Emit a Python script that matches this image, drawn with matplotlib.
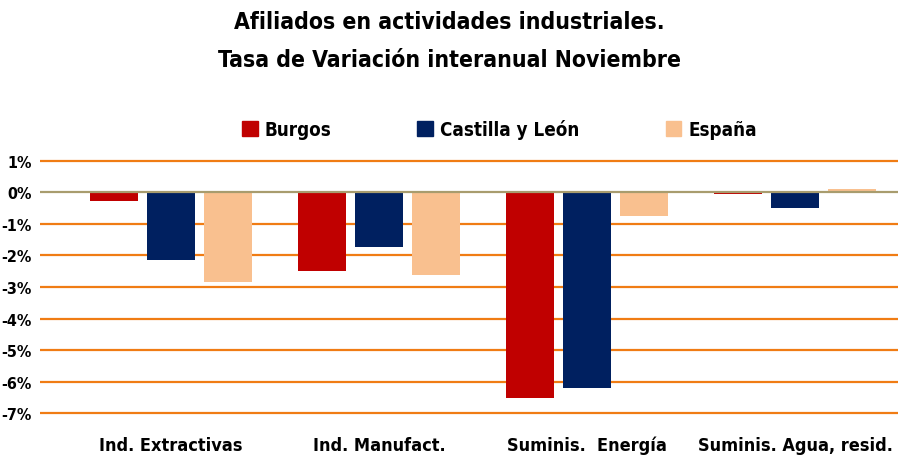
import numpy as np
import matplotlib.pyplot as plt
from matplotlib.patches import Patch

categorias = ['Ind. Extractivas', 'Ind. Manufact.', 'Suminis.  Energía', 'Suminis. Agua, resid.']
burgos = [-0.27, -2.50, -6.50, -0.07]
castilla_leon = [-2.15, -1.73, -6.20, -0.50]
espana = [-2.85, -2.62, -0.74, 0.10]
series = ['Burgos', 'Castilla y León', 'España']
colores = ['#C00000', '#002060', '#F9C08F']
yticks = [1, 0, -1, -2, -3, -4, -5, -6, -7]

plt.rcParams['font.family'] = ['DejaVu Sans']
plt.rcParams['font.stretch'] = 'condensed'
plt.rcParams['font.weight'] = 'bold'

fig = plt.figure(figsize=(8.98, 4.56), dpi=100)
ax = fig.add_axes([0.0445, 0.088, 0.9555, 0.561])

x = np.arange(len(categorias))
paso = 0.274
ancho = 0.23
for i, (datos, nombre, color) in enumerate(zip([burgos, castilla_leon, espana], series, colores)):
    ax.bar(x + (i - 1) * paso, datos, ancho, color=color, label=nombre, zorder=3)

for v in yticks:
    if v != 0:
        ax.axhline(v, color='#F07C14', lw=1.6, zorder=1)
ax.axhline(0, color='#A89C6E', lw=1.6, zorder=4)

ax.set_xlim(-0.63, 3.495)
ax.set_ylim(-7.05, 1.05)
ax.set_yticks(yticks)
ax.set_yticklabels([f'{v}%' for v in yticks], fontsize=11.5, fontweight='bold')
ax.set_xticks(x)
ax.set_xticklabels(categorias, fontsize=13, fontweight='bold')
ax.tick_params(length=0)
ax.tick_params(axis='x', pad=15)
ax.tick_params(axis='y', pad=6)
for s in ax.spines.values():
    s.set_visible(False)

fig.text(0.5, 0.95, 'Afiliados en actividades industriales.', ha='center', va='center',
         fontsize=16.5, fontweight='bold')
fig.text(0.5, 0.868, 'Tasa de Variación interanual Noviembre', ha='center', va='center',
         fontsize=16.5, fontweight='bold')

handles = [Patch(color=c) for c in colores]
fig.legend(handles, series, loc='center', bbox_to_anchor=(0.556, 0.715), ncol=3,
           frameon=False, handlelength=0.85, handleheight=0.85,
           handletextpad=0.35, columnspacing=4.6,
           prop={'weight': 'bold', 'size': 13.5, 'stretch': 'condensed'})

fig.savefig('out.png', dpi=100)
